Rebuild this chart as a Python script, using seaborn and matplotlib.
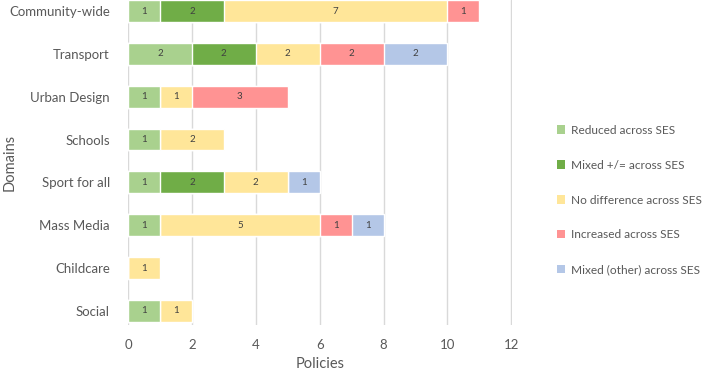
import numpy as np
import pandas as pd
import matplotlib.pyplot as plt
import seaborn as sns
from matplotlib.patches import Patch

# Data
domains = ['Community-wide', 'Transport', 'Urban Design', 'Schools',
           'Sport for all', 'Mass Media', 'Childcare', 'Social']
series = ['Reduced across SES', 'Mixed +/= across SES', 'No difference across SES',
          'Increased across SES', 'Mixed (other) across SES']
reduced = [1, 2, 1, 1, 1, 1, 0, 1]
mixed_eq = [2, 2, 0, 0, 2, 0, 0, 0]
no_diff = [7, 2, 1, 2, 2, 5, 1, 1]
increased = [1, 2, 3, 0, 0, 1, 0, 0]
mixed_other = [0, 2, 0, 0, 1, 1, 0, 0]
colors = ['#A9D18E', '#70AD47', '#FFE699', '#FF9393', '#B4C7E7']

sns.set_style('white')
plt.rcParams['font.family'] = ['Lato', 'DejaVu Sans']
grey = '#595959'

df = pd.DataFrame({'domain': domains})
for name, vals in zip(series, [reduced, mixed_eq, no_diff, increased, mixed_other]):
    df[name] = vals
cum = df[series].cumsum(axis=1)

fig = plt.figure(figsize=(7.07, 3.71), dpi=100)
ax = fig.add_axes([128 / 707, 46 / 371, 384 / 707, 325 / 371])

# stacked bars: draw cumulative totals from widest to narrowest
for i in reversed(range(len(series))):
    sns.barplot(x=cum[series[i]], y=df['domain'], color=colors[i], width=0.51,
                orient='h', saturation=1, ax=ax, zorder=2)

# segment labels
for i, name in enumerate(series):
    starts = cum[name] - df[name]
    for j, v in enumerate(df[name]):
        if v > 0:
            ax.text(starts[j] + v / 2, j, str(v), ha='center', va='center',
                    fontsize=7, color='#404040', zorder=3)

ax.set_xlim(0, 12.02)
ax.set_ylim(7.33, -0.257)
ax.set_xticks(range(0, 13, 2))
ax.xaxis.grid(True, color='#D9D9D9', linewidth=1, zorder=0)
ax.set_axisbelow(True)
sns.despine(ax=ax, left=True, bottom=True)
ax.tick_params(axis='both', length=0, labelsize=9.5, colors=grey)
ax.tick_params(axis='x', pad=10)
ax.tick_params(axis='y', pad=13)
ax.set_xlabel('Policies', fontsize=10.5, color=grey)
ax.set_ylabel('Domains', fontsize=10.5, color=grey)
ax.yaxis.set_label_coords(-0.29, 0.5)
ax.xaxis.set_label_coords(0.5, -0.098)

handles = [Patch(facecolor=c, edgecolor='none') for c in colors]
fig.legend(handles, series, loc='upper left', bbox_to_anchor=(546 / 707, 1 - 114 / 371),
           frameon=False, fontsize=8.6, labelcolor=grey, handlelength=0.7,
           handleheight=0.7, handletextpad=0.5, labelspacing=2.0)

fig.savefig('out.png', dpi=100)
